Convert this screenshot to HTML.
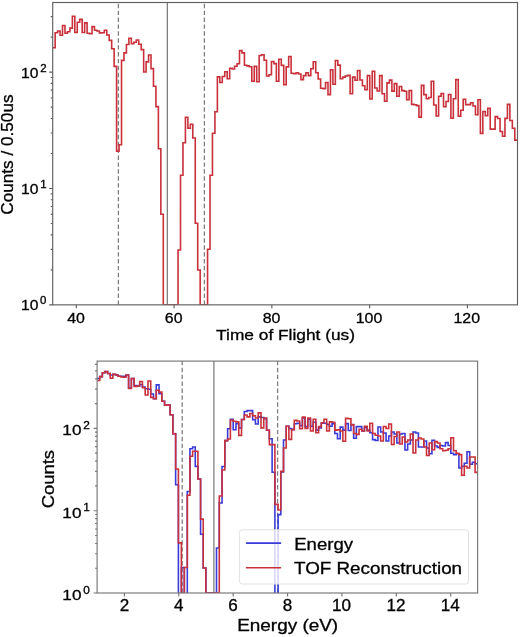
<!DOCTYPE html><html><head><meta charset="utf-8"><style>html,body{margin:0;padding:0;background:#fff;}svg{display:block;will-change:transform;}text{font-family:"Liberation Sans", sans-serif;stroke:#000;stroke-width:0.3px;}</style></head><body>
<svg width="520" height="637" viewBox="0 0 520 637">
<rect width="520" height="637" fill="#fff"/>
<defs><clipPath id="ct"><rect x="52.7" y="2.5" width="464.8" height="302.35"/></clipPath>
<clipPath id="cb"><rect x="97.1" y="361.1" width="380.5" height="231.9"/></clipPath></defs>
<g clip-path="url(#ct)">
<line x1="118.4" y1="304.85" x2="118.4" y2="2.5" stroke="#7f7f7f" stroke-width="1.3" stroke-dasharray="4.4 2.5"/>
<line x1="167.35" y1="304.85" x2="167.35" y2="2.5" stroke="#7f7f7f" stroke-width="1.3" />
<line x1="204.4" y1="304.85" x2="204.4" y2="2.5" stroke="#7f7f7f" stroke-width="1.3" stroke-dasharray="4.4 2.5"/>
<path d="M52.69 47.7 L55.15 47.7 L55.15 32.7 L57.61 32.7 L57.61 31 L60.07 31 L60.07 35.2 L62.52 35.2 L62.52 25.5 L64.98 25.5 L64.98 33.3 L67.44 33.3 L67.44 31.8 L69.9 31.8 L69.9 28.1 L72.36 28.1 L72.36 16.2 L74.81 16.2 L74.81 32.5 L77.27 32.5 L77.27 22.3 L79.73 22.3 L79.73 19.4 L82.19 19.4 L82.19 32.5 L84.65 32.5 L84.65 22.9 L87.1 22.9 L87.1 33.3 L89.56 33.3 L89.56 33.8 L92.02 33.8 L92.02 26.6 L94.48 26.6 L94.48 30.2 L96.94 30.2 L96.94 31 L99.39 31 L99.39 32.9 L101.85 32.9 L101.85 32.7 L104.31 32.7 L104.31 30.2 L106.77 30.2 L106.77 35 L109.23 35 L109.23 40.4 L111.68 40.4 L111.68 48.8 L114.14 48.8 L114.14 66.4 L116.6 66.4 L116.6 151.3 L119.06 151.3 L119.06 144.7 L121.52 144.7 L121.52 60.4 L123.97 60.4 L123.97 52.9 L126.43 52.9 L126.43 44.5 L128.89 44.5 L128.89 38.3 L131.35 38.3 L131.35 43.7 L133.81 43.7 L133.81 42.3 L136.26 42.3 L136.26 40 L138.72 40 L138.72 44.2 L141.18 44.2 L141.18 49.6 L143.64 49.6 L143.64 72 L146.1 72 L146.1 61.9 L148.55 61.9 L148.55 55 L151.01 55 L151.01 68.6 L153.47 68.6 L153.47 86.2 L155.93 86.2 L155.93 106.6 L158.39 106.6 L158.39 148.7 L160.84 148.7 L160.84 214.2 L163.3 214.2 L163.3 304.85 L165.76 304.85 L165.76 304.85 L168.22 304.85 L168.22 304.85 L170.68 304.85 L170.68 304.85 L173.13 304.85 L173.13 304.85 L175.59 304.85 L175.59 304.85 L178.05 304.85 L178.05 250 L180.51 250 L180.51 175.3 L182.97 175.3 L182.97 142.7 L185.42 142.7 L185.42 117.2 L187.88 117.2 L187.88 128.2 L190.34 128.2 L190.34 124.2 L192.8 124.2 L192.8 138 L195.26 138 L195.26 223.3 L197.71 223.3 L197.71 270 L200.17 270 L200.17 304.85 L202.63 304.85 L202.63 304.85 L205.09 304.85 L205.09 304.85 L207.55 304.85 L207.55 249.2 L210 249.2 L210 175.3 L212.46 175.3 L212.46 133.3 L214.92 133.3 L214.92 111.8 L217.38 111.8 L217.38 76.9 L219.84 76.9 L219.84 82.5 L222.29 82.5 L222.29 76.5 L224.75 76.5 L224.75 71.7 L227.21 71.7 L227.21 78.8 L229.67 78.8 L229.67 68.2 L232.13 68.2 L232.13 69 L234.58 69 L234.58 66.2 L237.04 66.2 L237.04 63.8 L239.5 63.8 L239.5 50.6 L241.96 50.6 L241.96 52.9 L244.42 52.9 L244.42 65.2 L246.87 65.2 L246.87 65.9 L249.33 65.9 L249.33 66.7 L251.79 66.7 L251.79 81.2 L254.25 81.2 L254.25 66.4 L256.71 66.4 L256.71 81.7 L259.16 81.7 L259.16 55.5 L261.62 55.5 L261.62 54.8 L264.08 54.8 L264.08 60.2 L266.54 60.2 L266.54 76 L269 76 L269 74.8 L271.45 74.8 L271.45 61.5 L273.91 61.5 L273.91 63.6 L276.37 63.6 L276.37 81.2 L278.83 81.2 L278.83 59.2 L281.29 59.2 L281.29 65.4 L283.74 65.4 L283.74 84.7 L286.2 84.7 L286.2 66.9 L288.66 66.9 L288.66 56.5 L291.12 56.5 L291.12 73.3 L293.58 73.3 L293.58 73.8 L296.03 73.8 L296.03 72.7 L298.49 72.7 L298.49 74 L300.95 74 L300.95 79.6 L303.41 79.6 L303.41 75.6 L305.87 75.6 L305.87 72.7 L308.32 72.7 L308.32 75.6 L310.78 75.6 L310.78 68.7 L313.24 68.7 L313.24 61.7 L315.7 61.7 L315.7 72.7 L318.16 72.7 L318.16 79 L320.61 79 L320.61 88.3 L323.07 88.3 L323.07 88.6 L325.53 88.6 L325.53 82.5 L327.99 82.5 L327.99 94.6 L330.45 94.6 L330.45 69.8 L332.9 69.8 L332.9 84.2 L335.36 84.2 L335.36 60.5 L337.82 60.5 L337.82 65.1 L340.28 65.1 L340.28 78.8 L342.74 78.8 L342.74 77.1 L345.19 77.1 L345.19 76 L347.65 76 L347.65 75.4 L350.11 75.4 L350.11 93.8 L352.57 93.8 L352.57 77.1 L355.03 77.1 L355.03 80.2 L357.48 80.2 L357.48 70.5 L359.94 70.5 L359.94 80 L362.4 80 L362.4 85.8 L364.86 85.8 L364.86 89.8 L367.32 89.8 L367.32 75.6 L369.77 75.6 L369.77 99 L372.23 99 L372.23 71.3 L374.69 71.3 L374.69 88 L377.15 88 L377.15 91 L379.61 91 L379.61 75.6 L382.06 75.6 L382.06 93.8 L384.52 93.8 L384.52 101.3 L386.98 101.3 L386.98 82.9 L389.44 82.9 L389.44 80.1 L391.9 80.1 L391.9 91.1 L394.35 91.1 L394.35 83.6 L396.81 83.6 L396.81 96.3 L399.27 96.3 L399.27 86.5 L401.73 86.5 L401.73 90.6 L404.19 90.6 L404.19 91.2 L406.64 91.2 L406.64 99.8 L409.1 99.8 L409.1 90.6 L411.56 90.6 L411.56 104.4 L414.02 104.4 L414.02 104.8 L416.48 104.8 L416.48 105.6 L418.93 105.6 L418.93 117.1 L421.39 117.1 L421.39 85.4 L423.85 85.4 L423.85 94.6 L426.31 94.6 L426.31 98.7 L428.77 98.7 L428.77 97.5 L431.22 97.5 L431.22 81.3 L433.68 81.3 L433.68 105 L436.14 105 L436.14 116 L438.6 116 L438.6 96.3 L441.06 96.3 L441.06 93.5 L443.51 93.5 L443.51 106.7 L445.97 106.7 L445.97 101.5 L448.43 101.5 L448.43 94.5 L450.89 94.5 L450.89 118.3 L453.35 118.3 L453.35 98.8 L455.8 98.8 L455.8 79.6 L458.26 79.6 L458.26 116.1 L460.72 116.1 L460.72 110.3 L463.18 110.3 L463.18 99.2 L465.64 99.2 L465.64 104.6 L468.09 104.6 L468.09 104.6 L470.55 104.6 L470.55 102.7 L473.01 102.7 L473.01 106 L475.47 106 L475.47 114.7 L477.93 114.7 L477.93 99.8 L480.38 99.8 L480.38 133.4 L482.84 133.4 L482.84 111.5 L485.3 111.5 L485.3 115.8 L487.76 115.8 L487.76 108.3 L490.22 108.3 L490.22 129.1 L492.67 129.1 L492.67 129.1 L495.13 129.1 L495.13 116.6 L497.59 116.6 L497.59 118.5 L500.05 118.5 L500.05 131.5 L502.51 131.5 L502.51 136.2 L504.96 136.2 L504.96 118.4 L507.42 118.4 L507.42 104.4 L509.88 104.4 L509.88 120.5 L512.34 120.5 L512.34 128.3 L514.8 128.3 L514.8 140.1 L517.25 140.1 L517.25 140.1 L519.71 140.1" fill="none" stroke="#c9303a" stroke-width="1.6" stroke-linejoin="miter"/>
</g>
<rect x="52.7" y="2.5" width="464.8" height="302.35" fill="none" stroke="#606060" stroke-width="1.15"/>
<path d="M76.3 304.85 v3.5 M174.07 304.85 v3.5 M271.85 304.85 v3.5 M369.62 304.85 v3.5 M467.4 304.85 v3.5 M52.7 304.85 h-3.5 M52.7 188.5 h-3.5 M52.7 72.15 h-3.5 M52.7 269.83 h-2 M52.7 249.34 h-2 M52.7 234.8 h-2 M52.7 223.52 h-2 M52.7 214.31 h-2 M52.7 206.52 h-2 M52.7 199.78 h-2 M52.7 193.82 h-2 M52.7 153.48 h-2 M52.7 132.99 h-2 M52.7 118.45 h-2 M52.7 107.17 h-2 M52.7 97.96 h-2 M52.7 90.17 h-2 M52.7 83.43 h-2 M52.7 77.47 h-2 M52.7 37.13 h-2 M52.7 16.64 h-2" stroke="#606060" stroke-width="1.15" fill="none"/>
<text x="67.28" y="322.5" font-size="15" textLength="17.7" lengthAdjust="spacingAndGlyphs">40</text>
<text x="164.83" y="322.5" font-size="15" textLength="17.7" lengthAdjust="spacingAndGlyphs">60</text>
<text x="262.67" y="322.5" font-size="15" textLength="17.7" lengthAdjust="spacingAndGlyphs">80</text>
<text x="355.76" y="322.5" font-size="15" textLength="26.55" lengthAdjust="spacingAndGlyphs">100</text>
<text x="453.53" y="322.5" font-size="15" textLength="26.55" lengthAdjust="spacingAndGlyphs">120</text>
<text x="21.11" y="310.35" font-size="14.4" textLength="17.4" lengthAdjust="spacingAndGlyphs">10</text>
<text x="40.07" y="304.45" font-size="10.08" textLength="6.38" lengthAdjust="spacingAndGlyphs">0</text>
<text x="21.11" y="194" font-size="14.4" textLength="17.4" lengthAdjust="spacingAndGlyphs">10</text>
<text x="40.18" y="188.1" font-size="10.08" textLength="6.38" lengthAdjust="spacingAndGlyphs">1</text>
<text x="21.11" y="77.65" font-size="14.4" textLength="17.4" lengthAdjust="spacingAndGlyphs">10</text>
<text x="40.2" y="71.75" font-size="10.08" textLength="6.38" lengthAdjust="spacingAndGlyphs">2</text>
<text x="216.11" y="340.4" font-size="15" textLength="138.86" lengthAdjust="spacingAndGlyphs">Time of Flight (us)</text>
<text transform="translate(13 214.67) rotate(-90)" x="0" y="0" font-size="15.6" textLength="120.19" lengthAdjust="spacingAndGlyphs">Counts / 0.50us</text>
<g clip-path="url(#cb)">
<line x1="182.2" y1="593" x2="182.2" y2="361.1" stroke="#7f7f7f" stroke-width="1.3" stroke-dasharray="4.4 2.5"/>
<line x1="213.9" y1="593" x2="213.9" y2="361.1" stroke="#7f7f7f" stroke-width="1.3" />
<line x1="277.6" y1="593" x2="277.6" y2="361.1" stroke="#7f7f7f" stroke-width="1.3" stroke-dasharray="4.4 2.5"/>
<path d="M97.1 378.5 L99.72 378.5 L99.72 376.6 L102.35 376.6 L102.35 372.8 L104.97 372.8 L104.97 371.6 L107.6 371.6 L107.6 373.5 L110.22 373.5 L110.22 375 L112.85 375 L112.85 374.3 L115.47 374.3 L115.47 375 L118.1 375 L118.1 376.2 L120.72 376.2 L120.72 376.2 L123.35 376.2 L123.35 376.2 L125.97 376.2 L125.97 375 L128.6 375 L128.6 388 L131.37 388 L131.37 378.5 L134.13 378.5 L134.13 385.5 L136.9 385.5 L136.9 386 L139.67 386 L139.67 384.5 L142.43 384.5 L142.43 387 L145.2 387 L145.2 388.8 L147.97 388.8 L147.97 389.2 L150.73 389.2 L150.73 394 L153.5 394 L153.5 398.8 L156.27 398.8 L156.27 384.9 L159.03 384.9 L159.03 393.6 L161.8 393.6 L161.8 401.3 L164.57 401.3 L164.57 405.1 L167.33 405.1 L167.33 405.1 L170.1 405.1 L170.1 414.7 L172.87 414.7 L172.87 433.8 L175.63 433.8 L175.63 484.8 L178.4 484.8 L178.4 613 L181.37 613 L181.37 567.5 L184.33 567.5 L184.33 613 L187.3 613 L187.3 491.5 L189.95 491.5 L189.95 448.8 L192.61 448.8 L192.61 447 L195.26 447 L195.26 466.4 L197.92 466.4 L197.92 479 L200.57 479 L200.57 534.2 L203.23 534.2 L203.23 568 L205.88 568 L205.88 593 L208.54 593 L208.54 593 L211.19 593 L211.19 593 L213.85 593 L213.85 593 L216.5 593 L216.5 548 L219.28 548 L219.28 503 L222.06 503 L222.06 466.5 L224.84 466.5 L224.84 440.6 L227.62 440.6 L227.62 428.8 L230.4 428.8 L230.4 419.4 L233.19 419.4 L233.19 429.8 L235.97 429.8 L235.97 423.6 L238.75 423.6 L238.75 428 L241.53 428 L241.53 419.5 L244.31 419.5 L244.31 411.5 L247.09 411.5 L247.09 410.6 L249.87 410.6 L249.87 410.6 L252.65 410.6 L252.65 419.8 L255.43 419.8 L255.43 424 L258.21 424 L258.21 416.9 L261 416.9 L261 417.5 L263.78 417.5 L263.78 418.6 L266.56 418.6 L266.56 430.2 L269.34 430.2 L269.34 438.8 L272.12 438.8 L272.12 472.2 L274.9 472.2 L274.9 613 L278.1 613 L278.1 514.6 L280.8 514.6 L280.8 472 L283.5 472 L283.5 440 L286.2 440 L286.2 426.2 L288.89 426.2 L288.89 428.5 L291.59 428.5 L291.59 429.6 L294.29 429.6 L294.29 423.8 L296.99 423.8 L296.99 423.2 L299.69 423.2 L299.69 425.8 L302.39 425.8 L302.39 418 L305.09 418 L305.09 426.6 L307.79 426.6 L307.79 419.3 L310.48 419.3 L310.48 426.2 L313.18 426.2 L313.18 422.3 L315.88 422.3 L315.88 430.1 L318.58 430.1 L318.58 427.9 L321.28 427.9 L321.28 423.2 L323.98 423.2 L323.98 423.2 L326.68 423.2 L326.68 424.5 L329.37 424.5 L329.37 426.2 L332.07 426.2 L332.07 423.6 L334.77 423.6 L334.77 433.5 L337.47 433.5 L337.47 438.7 L340.17 438.7 L340.17 427.1 L342.87 427.1 L342.87 430.1 L345.57 430.1 L345.57 423.6 L348.26 423.6 L348.26 430.5 L350.96 430.5 L350.96 424.5 L353.66 424.5 L353.66 438.3 L356.36 438.3 L356.36 426.6 L359.06 426.6 L359.06 426.6 L361.76 426.6 L361.76 431 L364.46 431 L364.46 427.5 L367.16 427.5 L367.16 430.1 L369.85 430.1 L369.85 432.7 L372.55 432.7 L372.55 439.6 L375.25 439.6 L375.25 440.5 L377.95 440.5 L377.95 427 L380.65 427 L380.65 432 L383.35 432 L383.35 433 L386.05 433 L386.05 441 L388.74 441 L388.74 436 L391.44 436 L391.44 432 L394.14 432 L394.14 434 L396.84 434 L396.84 443 L399.54 443 L399.54 434 L402.24 434 L402.24 433.5 L404.94 433.5 L404.94 450 L407.64 450 L407.64 444 L410.33 444 L410.33 440 L413.03 440 L413.03 432 L415.73 432 L415.73 433 L418.43 433 L418.43 447 L421.13 447 L421.13 447 L423.83 447 L423.83 441 L426.53 441 L426.53 448 L429.22 448 L429.22 453.7 L431.92 453.7 L431.92 440.2 L434.62 440.2 L434.62 446 L437.32 446 L437.32 447.4 L440.02 447.4 L440.02 445.5 L442.72 445.5 L442.72 446 L445.42 446 L445.42 442.6 L448.11 442.6 L448.11 445.5 L450.81 445.5 L450.81 453.2 L453.51 453.2 L453.51 454.6 L456.21 454.6 L456.21 453.7 L458.91 453.7 L458.91 468 L461.61 468 L461.61 466.2 L464.31 466.2 L464.31 463.3 L467.01 463.3 L467.01 451.7 L469.7 451.7 L469.7 464.2 L472.4 464.2 L472.4 462.3 L475.1 462.3 L475.1 463.8 L477.8 463.8" fill="none" stroke="#3a3ad8" stroke-width="1.6"/>
<path d="M97.1 380.5 L99.72 380.5 L99.72 376.6 L102.35 376.6 L102.35 372.8 L104.97 372.8 L104.97 371.6 L107.6 371.6 L107.6 373.5 L110.22 373.5 L110.22 378.2 L112.85 378.2 L112.85 374.3 L115.47 374.3 L115.47 375 L118.1 375 L118.1 376.2 L120.72 376.2 L120.72 377 L123.35 377 L123.35 377.3 L125.97 377.3 L125.97 375 L128.6 375 L128.6 388.5 L131.37 388.5 L131.37 378.5 L134.13 378.5 L134.13 386.5 L136.9 386.5 L136.9 386 L139.67 386 L139.67 381.5 L142.43 381.5 L142.43 387.8 L145.2 387.8 L145.2 395 L147.97 395 L147.97 381 L150.73 381 L150.73 397.4 L153.5 397.4 L153.5 398.8 L156.27 398.8 L156.27 390.2 L159.03 390.2 L159.03 392.1 L161.8 392.1 L161.8 401.3 L164.57 401.3 L164.57 405.1 L167.33 405.1 L167.33 405.1 L170.1 405.1 L170.1 414.7 L172.87 414.7 L172.87 433.8 L175.63 433.8 L175.63 469 L178.4 469 L178.4 542.9 L181.37 542.9 L181.37 613 L184.33 613 L184.33 567.5 L187.3 567.5 L187.3 495.3 L189.95 495.3 L189.95 456.3 L192.61 456.3 L192.61 451.3 L195.26 451.3 L195.26 451.3 L197.92 451.3 L197.92 479 L200.57 479 L200.57 519.1 L203.23 519.1 L203.23 568 L205.88 568 L205.88 593 L208.54 593 L208.54 593 L211.19 593 L211.19 593 L213.85 593 L213.85 593 L216.5 593 L216.5 593 L219.28 593 L219.28 496 L222.06 496 L222.06 470 L224.84 470 L224.84 440.6 L227.62 440.6 L227.62 439 L230.4 439 L230.4 420 L233.19 420 L233.19 421.2 L235.97 421.2 L235.97 421.9 L238.75 421.9 L238.75 435.4 L241.53 435.4 L241.53 419.5 L244.31 419.5 L244.31 415 L247.09 415 L247.09 416.9 L249.87 416.9 L249.87 413.5 L252.65 413.5 L252.65 415.8 L255.43 415.8 L255.43 418 L258.21 418 L258.21 412.9 L261 412.9 L261 427.9 L263.78 427.9 L263.78 418 L266.56 418 L266.56 430.2 L269.34 430.2 L269.34 444.6 L272.12 444.6 L272.12 444.6 L274.9 444.6 L274.9 504.4 L278.1 504.4 L278.1 510 L280.8 510 L280.8 471.4 L283.5 471.4 L283.5 448 L286.2 448 L286.2 426.2 L288.89 426.2 L288.89 439.4 L291.59 439.4 L291.59 429.6 L294.29 429.6 L294.29 420.4 L296.99 420.4 L296.99 421 L299.69 421 L299.69 428.8 L302.39 428.8 L302.39 417.1 L305.09 417.1 L305.09 428.4 L307.79 428.4 L307.79 418 L310.48 418 L310.48 431 L313.18 431 L313.18 419.3 L315.88 419.3 L315.88 432.7 L318.58 432.7 L318.58 426.6 L321.28 426.6 L321.28 422.7 L323.98 422.7 L323.98 419.3 L326.68 419.3 L326.68 431 L329.37 431 L329.37 421.9 L332.07 421.9 L332.07 422.3 L334.77 422.3 L334.77 430.1 L337.47 430.1 L337.47 429.7 L340.17 429.7 L340.17 431 L342.87 431 L342.87 441.3 L345.57 441.3 L345.57 418.4 L348.26 418.4 L348.26 418.8 L350.96 418.8 L350.96 424.9 L353.66 424.9 L353.66 433.5 L356.36 433.5 L356.36 434.4 L359.06 434.4 L359.06 429.2 L361.76 429.2 L361.76 431 L364.46 431 L364.46 426.2 L367.16 426.2 L367.16 431 L369.85 431 L369.85 423.2 L372.55 423.2 L372.55 433.5 L375.25 433.5 L375.25 435.3 L377.95 435.3 L377.95 436 L380.65 436 L380.65 441 L383.35 441 L383.35 426.5 L386.05 426.5 L386.05 428.5 L388.74 428.5 L388.74 424 L391.44 424 L391.44 444.5 L394.14 444.5 L394.14 436.5 L396.84 436.5 L396.84 432 L399.54 432 L399.54 444 L402.24 444 L402.24 437 L404.94 437 L404.94 442 L407.64 442 L407.64 440 L410.33 440 L410.33 434 L413.03 434 L413.03 453 L415.73 453 L415.73 440 L418.43 440 L418.43 438 L421.13 438 L421.13 439 L423.83 439 L423.83 447 L426.53 447 L426.53 455.5 L429.22 455.5 L429.22 443 L431.92 443 L431.92 449.8 L434.62 449.8 L434.62 441.6 L437.32 441.6 L437.32 443 L440.02 443 L440.02 448.8 L442.72 448.8 L442.72 450.8 L445.42 450.8 L445.42 450.3 L448.11 450.3 L448.11 448.8 L450.81 448.8 L450.81 437.8 L453.51 437.8 L453.51 450.8 L456.21 450.8 L456.21 453.2 L458.91 453.2 L458.91 454.6 L461.61 454.6 L461.61 475.3 L464.31 475.3 L464.31 466.2 L467.01 466.2 L467.01 468 L469.7 468 L469.7 457 L472.4 457 L472.4 457 L475.1 457 L475.1 472.4 L477.8 472.4" fill="none" stroke="#c9303a" stroke-width="1.6"/>
</g>
<rect x="97.1" y="361.1" width="380.5" height="231.9" fill="none" stroke="#777" stroke-width="1.15"/>
<path d="M124.4 593 v3.5 M178.78 593 v3.5 M233.17 593 v3.5 M287.55 593 v3.5 M341.93 593 v3.5 M396.32 593 v3.5 M450.7 593 v3.5 M97.1 593 h-3.5 M97.1 510.7 h-3.5 M97.1 428.4 h-3.5 M97.1 568.23 h-2 M97.1 553.73 h-2 M97.1 543.45 h-2 M97.1 535.47 h-2 M97.1 528.96 h-2 M97.1 523.45 h-2 M97.1 518.68 h-2 M97.1 514.47 h-2 M97.1 485.93 h-2 M97.1 471.43 h-2 M97.1 461.15 h-2 M97.1 453.17 h-2 M97.1 446.66 h-2 M97.1 441.15 h-2 M97.1 436.38 h-2 M97.1 432.17 h-2 M97.1 403.63 h-2 M97.1 389.13 h-2 M97.1 378.85 h-2 M97.1 370.87 h-2 M97.1 364.36 h-2" stroke="#777" stroke-width="1.15" fill="none"/>
<text x="119.65" y="610.9" font-size="16.1" textLength="9.49" lengthAdjust="spacingAndGlyphs">2</text>
<text x="174.09" y="610.9" font-size="16.1" textLength="9.49" lengthAdjust="spacingAndGlyphs">4</text>
<text x="228.36" y="610.9" font-size="16.1" textLength="9.49" lengthAdjust="spacingAndGlyphs">6</text>
<text x="282.8" y="610.9" font-size="16.1" textLength="9.49" lengthAdjust="spacingAndGlyphs">8</text>
<text x="332.13" y="610.9" font-size="16.1" textLength="18.98" lengthAdjust="spacingAndGlyphs">10</text>
<text x="386.6" y="610.9" font-size="16.1" textLength="18.98" lengthAdjust="spacingAndGlyphs">12</text>
<text x="440.81" y="610.9" font-size="16.1" textLength="18.98" lengthAdjust="spacingAndGlyphs">14</text>
<text x="62.39" y="599.9" font-size="15.2" textLength="19.08" lengthAdjust="spacingAndGlyphs">10</text>
<text x="83.18" y="593.6" font-size="10.64" textLength="6.58" lengthAdjust="spacingAndGlyphs">0</text>
<text x="62.39" y="517.6" font-size="15.2" textLength="19.08" lengthAdjust="spacingAndGlyphs">10</text>
<text x="83.3" y="511.3" font-size="10.64" textLength="6.58" lengthAdjust="spacingAndGlyphs">1</text>
<text x="62.39" y="435.3" font-size="15.2" textLength="19.08" lengthAdjust="spacingAndGlyphs">10</text>
<text x="83.31" y="429" font-size="10.64" textLength="6.58" lengthAdjust="spacingAndGlyphs">2</text>
<text x="237.15" y="631.4" font-size="16.1" textLength="101.03" lengthAdjust="spacingAndGlyphs">Energy (eV)</text>
<text transform="translate(54.1 508.33) rotate(-90)" x="0" y="0" font-size="16.1" textLength="58.3" lengthAdjust="spacingAndGlyphs">Counts</text>
<rect x="239.4" y="529.8" width="229.1" height="54.2" rx="3" ry="3" fill="#fff" fill-opacity="0.8" stroke="#e2e2e2" stroke-width="1"/>
<line x1="245.9" y1="543.1" x2="281.1" y2="543.1" stroke="#3a3ad8" stroke-width="1.6"/>
<line x1="245.9" y1="567.8" x2="281.1" y2="567.8" stroke="#c9303a" stroke-width="1.6"/>
<text x="294.18" y="550.1" font-size="16.1" textLength="58.86" lengthAdjust="spacingAndGlyphs">Energy</text>
<text x="293.98" y="573.7" font-size="16.1" textLength="168.14" lengthAdjust="spacingAndGlyphs">TOF Reconstruction</text>
</svg></body></html>
